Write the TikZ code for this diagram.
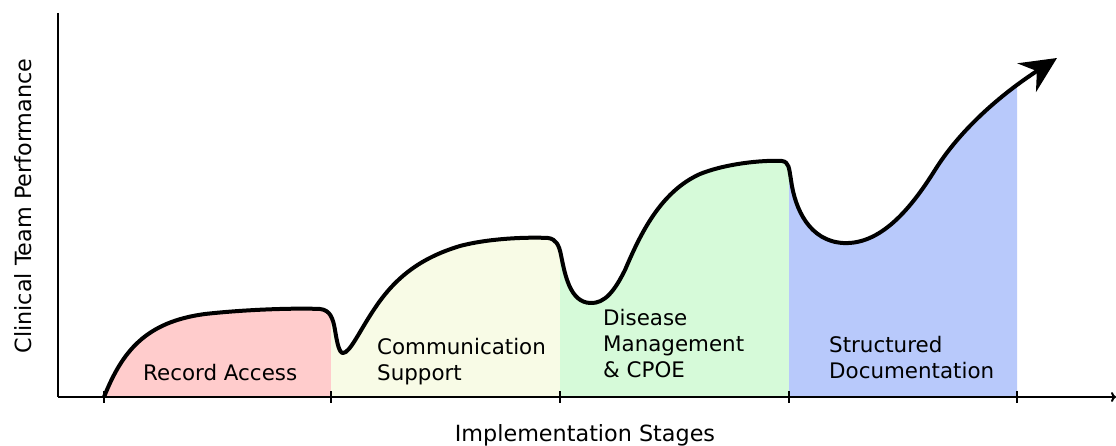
\documentclass[tikz,border=0pt]{standalone}
\usepackage{fontspec}
\setmainfont{DejaVu Sans}
\usetikzlibrary{arrows.meta}

\definecolor{stageA}{HTML}{FFCCCC}
\definecolor{stageB}{HTML}{F8FBE6}
\definecolor{stageC}{HTML}{D6FAD9}
\definecolor{stageD}{HTML}{B8C9FB}

% performance curve (pixel units, y downwards)
\newcommand{\perfcurve}{(104,397)
  .. controls (122,352) and (145,322) .. (205,314)
  .. controls (250,309) and (300,308) .. (320,309)
  .. controls (330,310) and (333,318) .. (335,330)
  .. controls (337,342) and (339,353) .. (343,353)
  .. controls (350,353) and (360,330) .. (375,308)
  .. controls (395,278) and (420,258) .. (460,246)
  .. controls (490,238) and (530,237) .. (548,238)
  .. controls (556,239) and (559,245) .. (561,255)
  .. controls (565,275) and (570,302) .. (590,303)
  .. controls (605,304) and (615,290) .. (625,270)
  .. controls (640,235) and (660,192) .. (700,174)
  .. controls (730,162) and (770,160) .. (782,161)
  .. controls (789,162) and (789,168) .. (791,180)
  .. controls (795,210) and (810,241) .. (843,243)
  .. controls (880,245) and (910,210) .. (935,170)
  .. controls (960,130) and (1000,95) .. (1057,58)}

\begin{document}
\begin{tikzpicture}[
    x=1pt, y=-1pt,
    axis/.style={line width=2pt},
    tick/.style={line width=1.6pt},
    perf/.style={line width=4pt, line join=round, -{Stealth[length=36pt, width=34pt, inset=12pt]}},
    stagelabel/.style={font=\fontsize{21.4}{26}\selectfont, inner sep=0pt, align=left, anchor=base west},
    axislabel/.style={font=\fontsize{22.3}{26}\selectfont, inner sep=0pt, anchor=base},
]
\useasboundingbox (0,0) rectangle (1116,446);

% coloured stages under the curve
\foreach \xa/\xb/\col in {104/331/stageA, 331/560/stageB, 560/789/stageC, 789/1017/stageD}{
  \begin{scope}
    \clip (\xa,0) rectangle (\xb,397);
    \fill[\col] \perfcurve -- (1057,397) -- cycle;
  \end{scope}
}

% axes
\coordinate (ytop) at (58,13);
\coordinate (origin) at (58,397);
\coordinate (xend) at (1116,397);
\draw[axis] (ytop) -- (origin);
\draw[axis, -{To[length=5pt, width=10pt]}] (origin) -- (xend);
\foreach \tx in {104,331,560,789,1017}
  \draw[tick] (\tx,391) -- (\tx,403);

% curve
\draw[perf] \perfcurve;

% stage labels (base = last line)
\node[stagelabel] (recacc) at (143,380) {Record Access};
\node[stagelabel] (commsup) at (377,380) {Communication\\Support};
\node[stagelabel] (dismgmt) at (603,377) {Disease\\Management\\\& CPOE};
\node[stagelabel] (structdoc) at (829,378) {Structured\\Documentation};

% axis labels
\node[axislabel] (xlabel) at (585,441) {Implementation Stages};
\node[axislabel, rotate=90] (ylabel) at (31,206) {Clinical Team Performance};

\end{tikzpicture}
\end{document}
